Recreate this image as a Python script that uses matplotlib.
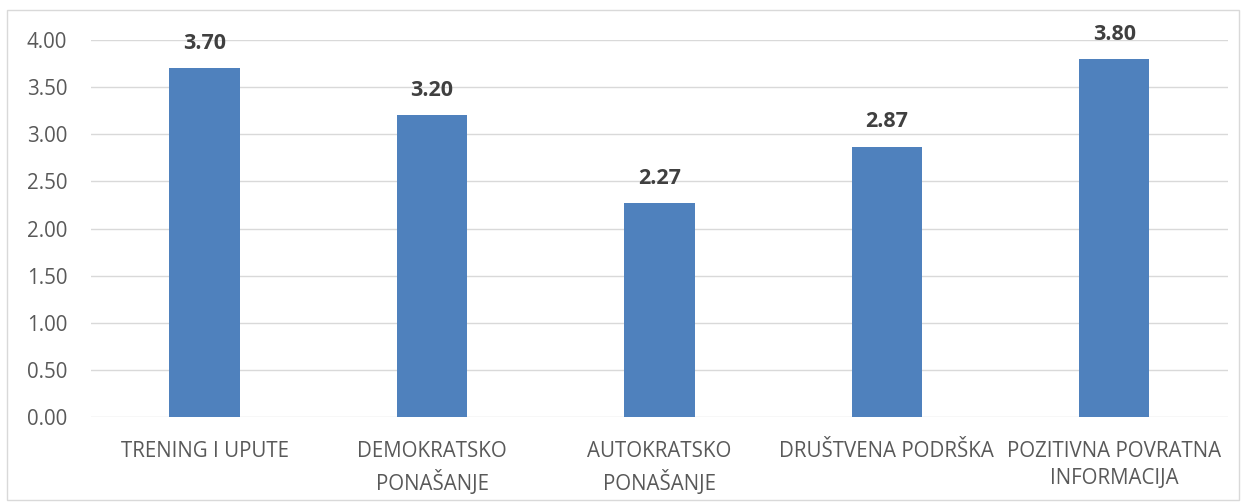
import matplotlib.pyplot as plt
from matplotlib.patches import Rectangle

categories = ['TRENING I UPUTE', 'DEMOKRATSKO\nPONAŠANJE', 'AUTOKRATSKO\nPONAŠANJE',
              'DRUŠTVENA PODRŠKA', 'POZITIVNA POVRATNA\nINFORMACIJA']
values = [3.70, 3.20, 2.27, 2.87, 3.80]
yticks = [0, 0.5, 1, 1.5, 2, 2.5, 3, 3.5, 4]

plt.rcParams['font.family'] = ['Open Sans', 'DejaVu Sans']

fig = plt.figure(figsize=(12.46, 5.04), dpi=100)
ax = fig.add_axes([0.073, 0.1726, 0.9125, 0.748])

x = range(len(categories))
ax.bar(x, values, width=0.31, color='#4F81BD', zorder=3)
for i, v in zip(x, values):
    ax.text(i, v + 0.15, f'{v:.2f}', ha='center', va='bottom',
            fontsize=15.5, fontweight='bold', color='#404040')

ax.set_xlim(-0.5, len(categories) - 0.5)
ax.set_ylim(0, 4)
ax.set_yticks(yticks)
ax.set_yticklabels([f'{t:.2f}' for t in yticks])
ax.set_xticks(list(x))
ax.set_xticklabels(categories, linespacing=1.4)
ax.tick_params(axis='both', length=0, labelsize=14.8, labelcolor='#595959')
ax.tick_params(axis='x', pad=17)
ax.tick_params(axis='y', pad=17)
ax.grid(axis='y', color='#D9D9D9', linewidth=1, zorder=0)
for s in ax.spines.values():
    s.set_visible(False)

fig.patches.append(Rectangle((0.006, 0.008), 0.988, 0.972, transform=fig.transFigure,
                             fill=False, edgecolor='#D9D9D9', linewidth=1))

fig.savefig('out.png', dpi=100)
